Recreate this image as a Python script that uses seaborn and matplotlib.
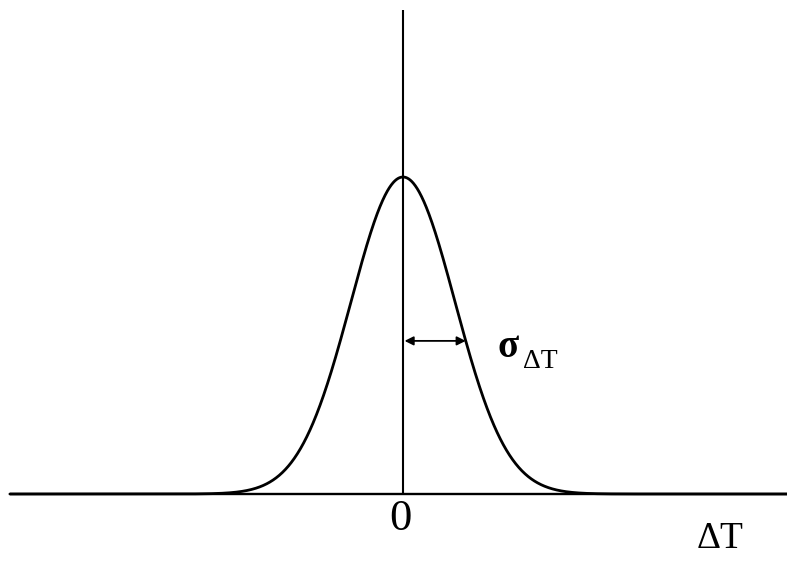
import numpy as np
import pandas as pd
import matplotlib
matplotlib.use("Agg")
import matplotlib.pyplot as plt
import seaborn as sns

# Gaussian distribution of the temperature difference, drawn in units of sigma
sigma = 1.0
peak = 1.0
marker_level = 0.483          # height of the width marker, as a fraction of the peak
curve_range = [-7.56, 7.40]   # extent of the abscissa
vaxis_top = 1.527
tick_labels = ["0"]
axis_label = "ΔT"
width_symbol = "σ"
width_subscript = "ΔT"

sns.set_style("white")
plt.rcParams["font.family"] = ["Liberation Serif", "DejaVu Serif"]
plt.rcParams["text.color"] = "black"

fig = plt.figure(figsize=(7.87, 5.63), dpi=100)
ax = fig.add_axes([0, 0, 1, 1])

x = np.linspace(curve_range[0], curve_range[1], 2000)
df = pd.DataFrame({"dT": x, "p": peak * np.exp(-0.5 * (x / sigma) ** 2)})
sns.lineplot(data=df, x="dT", y="p", color="black", lw=2.0, ax=ax)

# axes drawn as plain lines through the origin
ax.plot(curve_range, [0, 0], color="black", lw=1.7, solid_capstyle="butt")
ax.plot([0, 0], [0, vaxis_top], color="black", lw=1.5, solid_capstyle="butt")

# width marker: from the centre out to the curve at the chosen height
x_hit = sigma * np.sqrt(-2 * np.log(marker_level / peak))
ax.annotate("", xy=(x_hit, marker_level), xytext=(0.03, marker_level),
            arrowprops=dict(arrowstyle="<|-|>", color="black", lw=1.3,
                            mutation_scale=13, shrinkA=0, shrinkB=0))

ax.text(1.82, 0.432, width_symbol, fontsize=28, fontweight="bold",
        color="black", ha="left", va="baseline")
ax.text(2.31, 0.397, width_subscript, fontsize=20, color="black",
        ha="left", va="baseline")

ax.text(-0.04, -0.1136, tick_labels[0], fontsize=32, color="black",
        ha="center", va="baseline")
ax.text(6.1, -0.170, axis_label, fontsize=27, color="black",
        ha="center", va="baseline")

ax.set_xlim(-403 / 52, 384 / 52)
ax.set_ylim(-69 / 317, 494 / 317)
ax.set_axis_off()

fig.savefig("out.png", dpi=100, facecolor="white")
